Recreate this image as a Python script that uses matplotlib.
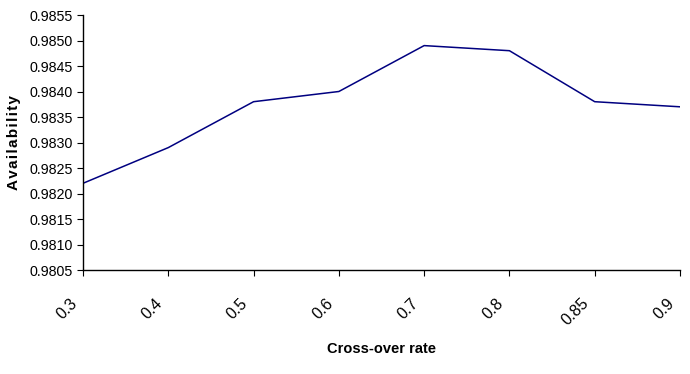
import matplotlib
matplotlib.use("Agg")
import matplotlib.pyplot as plt
from matplotlib.transforms import ScaledTranslation

categories = ["0.3", "0.4", "0.5", "0.6", "0.7", "0.8", "0.85", "0.9"]
availability = [0.9822, 0.9829, 0.9838, 0.9840, 0.9849, 0.9848, 0.9838, 0.9837]
yticks = [0.9805, 0.9810, 0.9815, 0.9820, 0.9825, 0.9830, 0.9835, 0.9840, 0.9845, 0.9850, 0.9855]

plt.rcParams['font.family'] = ['Liberation Sans', 'DejaVu Sans']

fig = plt.figure(figsize=(6.9, 3.74), dpi=100)
ax = fig.add_axes([83/690, 1-270/374, (680-83)/690, (270-15)/374])

x = list(range(len(categories)))
ax.plot(x, availability, color='#000080', linewidth=1.1)

ax.set_xlim(0, len(categories) - 1)
ax.set_ylim(yticks[0], yticks[-1])
ax.set_yticks(yticks)
ax.set_yticklabels([f"{v:.4f}" for v in yticks], fontsize=10.3)
ax.set_xticks(x)
ax.set_xticklabels(categories, fontsize=11.5, rotation=45, ha='right', va='top')

for s in ['top', 'right']:
    ax.spines[s].set_visible(False)
for s in ['left', 'bottom']:
    ax.spines[s].set_linewidth(1.0)
    ax.spines[s].set_color('black')
ax.tick_params(axis='both', direction='out', length=4, width=0.8, colors='black')
ax.tick_params(axis='x', pad=14.5)
shift = ScaledTranslation(-3/100, 0, fig.dpi_scale_trans)
for lbl in ax.get_xticklabels():
    lbl.set_transform(lbl.get_transform() + shift)

ax.set_xlabel("Cross-over rate", fontsize=10.5, fontweight='bold', labelpad=10)
ax.set_ylabel("\u200a".join("Availability"), fontsize=11, fontweight='bold', labelpad=6)

fig.savefig("out.png", dpi=100)
